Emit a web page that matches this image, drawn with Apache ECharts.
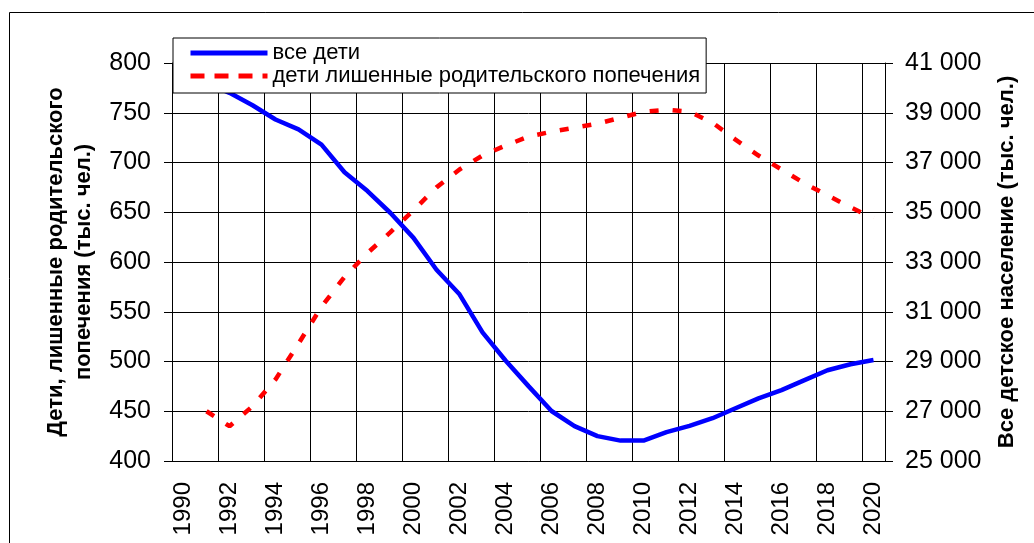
<!DOCTYPE html>
<html>
<head>
<meta charset="utf-8">
<script src="https://cdn.jsdelivr.net/npm/echarts@6/dist/echarts.min.js"></script>
<style>
  html, body { margin: 0; padding: 0; background: #fff; }
  #main { width: 1034px; height: 543px; }
</style>
</head>
<body>
<div id="main"></div>
<script>
var years = []
for (var y = 1990; y <= 2020; y++) years.push(String(y))

// дети, лишенные родительского попечения, тыс. чел. (левая ось)
var orphans = [null, 450, 435, 455, 482, 518, 555, 585, 609, 630, 652, 675, 693, 707, 717, 726,
  731, 735, 739, 745, 751, 753, 751, 740, 723, 707, 693, 679, 667, 655, 644]

// все детское население, тыс. чел. (правая ось)
var allChildren = [null, 40200, 39800, 39300, 38730, 38330, 37720, 36610, 35850, 34970, 33970,
  32690, 31700, 30170, 29040, 28010, 27010, 26400, 26000, 25820, 25820, 26160, 26410, 26720,
  27120, 27520, 27850, 28250, 28650, 28890, 29060]

var font = "'Liberation Sans', Arial, sans-serif"

var chartDom = document.getElementById('main')
var myChart = echarts.init(chartDom)
var option

option = {
  animation: false,
  backgroundColor: '#fff',
  textStyle: { fontFamily: font, color: '#000' },
  graphic: [{
    type: 'rect',
    shape: { x: 9.5, y: 12.5, width: 1040, height: 560 },
    style: { fill: 'none', stroke: '#000', lineWidth: 1 },
    silent: true
  }],
  grid: { left: 172, right: 149, top: 63, bottom: 82 },
  legend: {
    orient: 'vertical',
    left: 173,
    top: 38,
    data: [
      { name: 'все дети', lineStyle: { width: 5 } },
      { name: 'дети лишенные родительского попечения', lineStyle: { width: 5, type: [14, 10] } }
    ],
    itemWidth: 77,
    itemHeight: 14,
    itemGap: 1,
    padding: [4, 6, 6, 15],
    backgroundColor: '#fff',
    borderColor: '#000',
    borderWidth: 1,
    z: 10,
    itemStyle: { opacity: 0 },
    textStyle: { fontFamily: font, fontSize: 22, color: '#000' }
  },
  xAxis: {
    type: 'category',
    data: years,
    boundaryGap: true,
    axisLine: { lineStyle: { color: '#000', width: 1 } },
    axisTick: { interval: 1, length: 7, lineStyle: { color: '#000' } },
    axisLabel: { interval: 1, rotate: 90, fontSize: 24, color: '#000', margin: 21, fontFamily: font },
    splitLine: { show: true, interval: 1, lineStyle: { color: '#000', width: 1 } }
  },
  yAxis: [
    {
      type: 'value',
      position: 'left',
      min: 400,
      max: 800,
      interval: 50,
      name: 'Дети, лишенные родительского\nпопечения (тыс. чел.)',
      nameLocation: 'middle',
      nameGap: 73,
      nameTextStyle: { fontSize: 22, fontWeight: 'bold', lineHeight: 28, color: '#000', fontFamily: font },
      axisLine: { show: true, lineStyle: { color: '#000' } },
      axisTick: { show: true, length: 8, lineStyle: { color: '#000' } },
      axisLabel: { fontSize: 25, color: '#000', margin: 21, fontFamily: font },
      splitLine: { lineStyle: { color: '#000', width: 1 } }
    },
    {
      type: 'value',
      position: 'right',
      min: 25000,
      max: 41000,
      interval: 2000,
      name: 'Все детское население (тыс. чел.)',
      nameLocation: 'middle',
      nameGap: 109,
      nameTextStyle: { fontSize: 22, fontWeight: 'bold', lineHeight: 26, color: '#000', fontFamily: font },
      axisLine: { show: true, lineStyle: { color: '#000' } },
      axisTick: { show: true, length: 8, lineStyle: { color: '#000' } },
      axisLabel: {
        fontSize: 25, color: '#000', margin: 20, fontFamily: font,
        formatter: function (v) { return String(v).replace(/\B(?=(\d{3})+(?!\d))/g, ' ') }
      },
      splitLine: { show: false }
    }
  ],
  series: [
    {
      name: 'все дети',
      type: 'line',
      yAxisIndex: 1,
      data: allChildren,
      symbol: 'none',
      lineStyle: { color: '#0000ff', width: 4.5 },
      itemStyle: { color: '#0000ff' },
      z: 3
    },
    {
      name: 'дети лишенные родительского попечения',
      type: 'line',
      yAxisIndex: 0,
      data: orphans,
      symbol: 'none',
      lineStyle: { color: '#ff0000', width: 4.5, type: [9, 14] },
      itemStyle: { color: '#ff0000' },
      z: 2
    }
  ]
}

option && myChart.setOption(option)
</script>
</body>
</html>
